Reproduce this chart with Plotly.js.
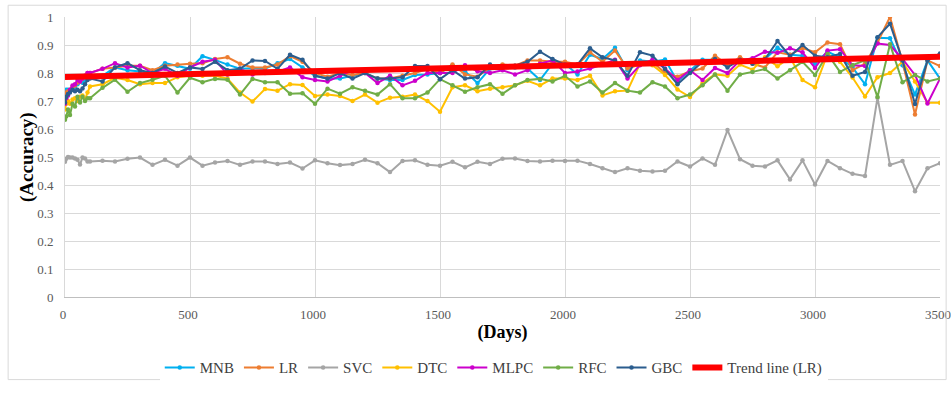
<!DOCTYPE html>
<html>
<head>
<meta charset="utf-8">
<script src="https://cdn.plot.ly/plotly-3.0.1.min.js"></script>
<style>html,body{margin:0;padding:0;background:#fff;}#chart{width:951px;height:395px;}</style>
</head>
<body>
<div id="chart"></div>
<script>
const days = [0,5,12,20,30,40,50,60,70,80,90,100,150,200,250,300,350,400,450,500,550,600,650,700,750,800,850,900,950,1000,1050,1100,1150,1200,1250,1300,1350,1400,1450,1500,1550,1600,1650,1700,1750,1800,1850,1900,1950,2000,2050,2100,2150,2200,2250,2300,2350,2400,2450,2500,2550,2600,2650,2700,2750,2800,2850,2900,2950,3000,3050,3100,3150,3200,3250,3300,3350,3400,3450,3500];

const MNB = [0.72,0.74,0.74,0.735,0.745,0.75,0.76,0.77,0.765,0.775,0.785,
 0.79,0.79,0.82,0.81,0.805,0.80,0.835,0.826,0.815,0.86,0.847,0.83,0.815,0.817,0.815,0.835,0.85,0.82,0.79,
 0.78,0.78,0.79,0.80,0.78,0.775,0.775,0.793,0.795,0.80,0.828,0.806,0.764,0.816,0.828,0.82,0.816,0.775,0.833,0.833,0.795,0.865,0.85,0.89,
 0.81,0.845,0.84,0.848,0.77,0.81,0.847,0.847,0.833,0.847,0.84,0.85,0.89,0.865,0.862,0.833,0.876,0.856,0.82,0.76,0.926,0.924,0.828,0.723,0.845,0.78];

const LR = [0.725,0.73,0.735,0.74,0.75,0.755,0.765,0.77,0.78,0.79,0.80,
 0.80,0.815,0.82,0.826,0.826,0.81,0.826,0.83,0.833,0.835,0.85,0.856,0.833,0.82,0.82,0.83,0.86,0.84,0.80,
 0.787,0.80,0.793,0.80,0.78,0.78,0.79,0.80,0.814,0.80,0.83,0.795,0.787,0.82,0.83,0.826,0.845,0.845,0.84,0.84,0.83,0.874,0.84,0.88,
 0.816,0.83,0.84,0.80,0.787,0.806,0.816,0.862,0.828,0.856,0.833,0.82,0.874,0.865,0.889,0.874,0.909,0.903,0.81,0.833,0.909,1.0,0.84,0.652,0.845,0.825];

const SVC = [0.483,0.494,0.5,0.498,0.498,0.495,0.49,0.473,0.498,0.495,0.484,
 0.484,0.487,0.484,0.494,0.498,0.472,0.49,0.469,0.498,0.469,0.48,0.486,0.472,0.484,0.484,0.475,0.48,0.459,0.488,
 0.478,0.471,0.475,0.49,0.478,0.446,0.486,0.488,0.472,0.469,0.483,0.463,0.483,0.475,0.494,0.495,0.486,0.484,0.487,0.486,0.487,0.475,0.46,0.446,
 0.46,0.451,0.448,0.451,0.484,0.466,0.495,0.472,0.596,0.492,0.469,0.466,0.488,0.42,0.488,0.402,0.486,0.46,0.44,0.432,0.712,0.472,0.486,0.378,0.46,0.478];

const DTC = [0.67,0.69,0.70,0.69,0.705,0.71,0.70,0.715,0.72,0.705,0.73,
 0.752,0.76,0.783,0.775,0.76,0.764,0.764,0.785,0.79,0.79,0.79,0.78,0.73,0.698,0.743,0.737,0.76,0.757,0.718,
 0.723,0.718,0.70,0.723,0.694,0.712,0.715,0.723,0.70,0.662,0.749,0.756,0.735,0.744,0.749,0.756,0.772,0.756,0.78,0.78,0.775,0.79,0.72,0.735,
 0.737,0.833,0.828,0.793,0.741,0.714,0.764,0.795,0.79,0.83,0.812,0.856,0.824,0.856,0.775,0.749,0.868,0.84,0.784,0.716,0.785,0.80,0.84,0.77,0.694,0.694];

const MLPC = [0.69,0.71,0.72,0.74,0.755,0.76,0.775,0.77,0.78,0.79,0.80,
 0.80,0.815,0.835,0.82,0.826,0.80,0.815,0.79,0.82,0.84,0.847,0.795,0.815,0.795,0.80,0.805,0.82,0.785,0.775,
 0.77,0.79,0.81,0.80,0.764,0.79,0.756,0.772,0.80,0.80,0.80,0.828,0.806,0.80,0.81,0.795,0.81,0.833,0.845,0.80,0.805,0.816,0.83,0.847,
 0.78,0.828,0.848,0.816,0.775,0.81,0.775,0.818,0.80,0.845,0.853,0.876,0.872,0.888,0.874,0.818,0.88,0.885,0.828,0.825,0.905,0.90,0.85,0.793,0.691,0.78];

const RFC = [0.633,0.645,0.67,0.65,0.69,0.68,0.715,0.695,0.715,0.70,0.71,
 0.71,0.747,0.776,0.733,0.764,0.776,0.79,0.73,0.783,0.767,0.779,0.776,0.723,0.779,0.767,0.767,0.726,0.728,0.69,
 0.744,0.726,0.749,0.737,0.723,0.76,0.71,0.71,0.73,0.778,0.756,0.733,0.749,0.76,0.726,0.756,0.775,0.779,0.77,0.79,0.752,0.77,0.73,0.764,
 0.737,0.73,0.767,0.752,0.71,0.723,0.756,0.795,0.737,0.795,0.804,0.814,0.78,0.81,0.84,0.793,0.868,0.804,0.828,0.845,0.714,0.903,0.767,0.793,0.77,0.78];

const GBC = [0.695,0.715,0.725,0.73,0.74,0.735,0.74,0.735,0.745,0.76,0.775,
 0.78,0.77,0.82,0.835,0.81,0.80,0.823,0.80,0.82,0.814,0.84,0.81,0.815,0.845,0.843,0.815,0.865,0.847,0.79,
 0.78,0.80,0.78,0.80,0.78,0.78,0.785,0.825,0.825,0.778,0.81,0.78,0.785,0.83,0.82,0.826,0.84,0.876,0.85,0.83,0.83,0.888,0.856,0.845,
 0.79,0.874,0.862,0.814,0.76,0.80,0.84,0.85,0.82,0.847,0.833,0.85,0.914,0.86,0.90,0.862,0.856,0.868,0.79,0.804,0.928,0.976,0.845,0.689,0.845,0.87];

const trendDays = [0, 3500];
const trendLR = [0.786, 0.858];

const seriesNames = ['MNB','LR','SVC','DTC','MLPC','RFC','GBC'];
const seriesData = [MNB, LR, SVC, DTC, MLPC, RFC, GBC];
const seriesColors = ['#00B0F0','#ED7D31','#A5A5A5','#FFC000','#CC00CC','#70AD47','#2B5D8E'];

const traces = seriesNames.map((n, i) => ({
  x: days, y: seriesData[i], name: n, type: 'scatter', mode: 'lines+markers',
  line: {color: seriesColors[i], width: 2},
  marker: {color: seriesColors[i], size: 4.5, symbol: 'circle'}
}));
traces.push({
  x: trendDays, y: trendLR, name: 'Trend line (LR)', type: 'scatter', mode: 'lines',
  line: {color: '#FF0000', width: 6}
});

const font = 'Liberation Serif';
const layout = {
  width: 951, height: 395,
  margin: {l: 65, r: 11, t: 17, b: 90},
  paper_bgcolor: '#fff', plot_bgcolor: '#fff',
  font: {family: font, color: '#595959', size: 13},
  showlegend: true,
  legend: {orientation: 'h', x: 0.49, xanchor: 'center', y: -0.253, yanchor: 'middle',
    font: {family: font, size: 15, color: '#404040'}, itemwidth: 30, traceorder: 'normal'},
  xaxis: {
    range: [0, 3500], tickvals: [0,500,1000,1500,2000,2500,3000,3500],
    showgrid: true, gridcolor: '#D9D9D9', gridwidth: 1, zeroline: false,
    showline: true, linecolor: '#BFBFBF', linewidth: 1,
    ticks: 'outside', ticklen: 5, tickcolor: 'rgba(0,0,0,0)',
    ticklabeloverflow: 'allow', ticklabelshift: -2,
    tickfont: {family: font, size: 13, color: '#595959'},
    title: {text: '<b>(Days)</b>', font: {family: font, size: 18, color: '#000'}, standoff: 4}
  },
  yaxis: {
    range: [0, 1], dtick: 0.1, tick0: 0,
    showgrid: true, gridcolor: '#D9D9D9', gridwidth: 1, zeroline: false,
    showline: true, linecolor: '#D9D9D9', linewidth: 1,
    ticks: 'outside', ticklen: 8, tickcolor: 'rgba(0,0,0,0)',
    tickfont: {family: font, size: 13, color: '#595959'}
  },
  annotations: [{text: '<b>(Accuracy)</b>', xref: 'paper', yref: 'paper', x: -0.0434, y: 0.5,
    xanchor: 'center', yanchor: 'middle', textangle: -90, showarrow: false,
    font: {family: font, size: 19, color: '#000'}}],
  shapes: [{type: 'rect', xref: 'paper', yref: 'paper', x0: -0.065, x1: 1.007, y0: -0.295, y1: 1.042,
    line: {color: '#D9D9D9', width: 1}, fillcolor: 'rgba(0,0,0,0)'}]
};
Plotly.newPlot('chart', traces, layout, {displayModeBar: false, staticPlot: true});
</script>
</body>
</html>
